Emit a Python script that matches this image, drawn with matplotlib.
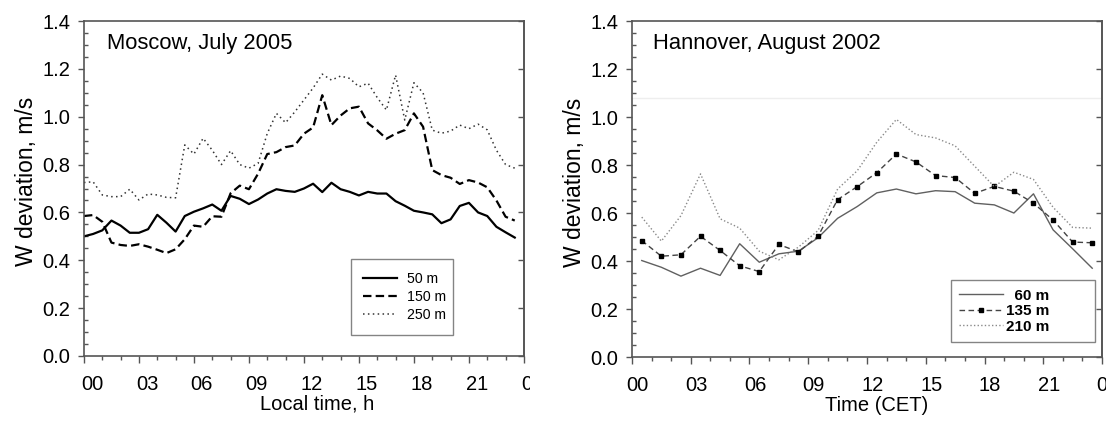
import numpy as np
import matplotlib.pyplot as plt
from matplotlib.ticker import MultipleLocator, NullLocator
from matplotlib.transforms import ScaledTranslation, Bbox, TransformedBbox

plt.rcParams['font.family'] = ['Liberation Sans', 'DejaVu Sans']

# Moscow, July 2005 - half-hourly values
msk_hours = np.arange(0, 24, 0.5)
msk_50 = [0.500, 0.510, 0.525, 0.566, 0.545, 0.515, 0.515, 0.530, 0.590, 0.557,
          0.520, 0.585, 0.603, 0.617, 0.633, 0.607, 0.669, 0.657, 0.635, 0.654,
          0.679, 0.697, 0.690, 0.686, 0.700, 0.720, 0.685, 0.724, 0.697, 0.686,
          0.671, 0.686, 0.679, 0.679, 0.647, 0.628, 0.607, 0.600, 0.592, 0.555,
          0.571, 0.627, 0.640, 0.600, 0.585, 0.540, 0.517, 0.495]
msk_150 = [0.585, 0.589, 0.561, 0.474, 0.464, 0.460, 0.467, 0.457, 0.444, 0.430,
           0.446, 0.488, 0.545, 0.540, 0.584, 0.582, 0.680, 0.712, 0.697, 0.762,
           0.844, 0.852, 0.873, 0.880, 0.929, 0.955, 1.090, 0.965, 1.005, 1.035,
           1.042, 0.972, 0.943, 0.908, 0.929, 0.944, 1.014, 0.958, 0.777, 0.756,
           0.745, 0.719, 0.735, 0.725, 0.705, 0.650, 0.582, 0.566]
msk_250 = [0.725, 0.728, 0.673, 0.666, 0.666, 0.697, 0.652, 0.677, 0.673, 0.663,
           0.661, 0.882, 0.844, 0.910, 0.860, 0.800, 0.858, 0.800, 0.785, 0.805,
           0.930, 1.014, 0.975, 1.020, 1.070, 1.120, 1.178, 1.153, 1.170, 1.160,
           1.125, 1.140, 1.080, 1.028, 1.174, 0.986, 1.142, 1.100, 0.944, 0.931,
           0.940, 0.965, 0.950, 0.969, 0.945, 0.860, 0.800, 0.785]

# Hannover, August 2002 - hourly values
han_hours = np.arange(0.5, 24, 1.0)
han_60 = [0.402, 0.374, 0.337, 0.370, 0.340, 0.472, 0.395, 0.430, 0.441, 0.497,
          0.578, 0.627, 0.684, 0.700, 0.680, 0.693, 0.689, 0.641, 0.634, 0.600,
          0.680, 0.530, 0.451, 0.370]
han_135 = [0.485, 0.420, 0.426, 0.503, 0.444, 0.380, 0.356, 0.469, 0.438, 0.503,
           0.656, 0.710, 0.768, 0.846, 0.813, 0.756, 0.748, 0.682, 0.711, 0.691,
           0.641, 0.571, 0.479, 0.476]
han_210 = [0.583, 0.483, 0.589, 0.763, 0.576, 0.537, 0.441, 0.405, 0.458, 0.527,
           0.700, 0.776, 0.895, 0.990, 0.927, 0.913, 0.880, 0.795, 0.710, 0.770,
           0.740, 0.624, 0.540, 0.537]

xtick_pos = list(range(0, 25, 3))
xtick_labels = ['00', '03', '06', '09', '12', '15', '18', '21', '00']
ytick_pos = np.arange(0, 1.41, 0.2)

spine_col = '#555555'

fig = plt.figure(figsize=(11.06, 4.21), dpi=100)
ax1 = fig.add_axes([0.0759, 0.1544, 0.3978, 0.7957])
ax2 = fig.add_axes([0.5714, 0.1520, 0.4250, 0.7980])


def style_axes(ax, shift_in):
    ax.set_xlim(0, 24)
    ax.set_ylim(0, 1.4)
    ax.set_xticks(xtick_pos)
    ax.set_xticklabels(xtick_labels)
    ax.set_yticks(ytick_pos)
    ax.set_yticklabels(['%.1f' % v for v in ytick_pos])
    ax.xaxis.set_minor_locator(MultipleLocator(1))
    ax.yaxis.set_minor_locator(MultipleLocator(0.05))
    ax.tick_params(axis='x', which='major', direction='out', length=5, width=1,
                   pad=9, labelsize=14.5, color=spine_col)
    ax.tick_params(axis='x', which='minor', direction='out', length=3, width=1,
                   color=spine_col)
    ax.tick_params(axis='y', which='major', direction='out', length=4, width=1,
                   pad=6, labelsize=14.5, color=spine_col)
    ax.tick_params(axis='y', which='minor', direction='in', length=3, width=1,
                   color=spine_col)
    for s in ax.spines.values():
        s.set_color(spine_col)
        s.set_linewidth(1.2)
    sec = ax.secondary_yaxis('right')
    sec.set_yticks(ytick_pos)
    sec.yaxis.set_minor_locator(NullLocator())
    sec.tick_params(direction='in', length=4, width=1, labelright=False, color=spine_col)
    sec.spines['right'].set_color(spine_col)
    sec.spines['right'].set_linewidth(1.2)
    # tick labels in the original sit a little right of their ticks
    shift = ScaledTranslation(shift_in, 0, fig.dpi_scale_trans)
    for lab in ax.get_xticklabels():
        lab.set_transform(lab.get_transform() + shift)


style_axes(ax1, 0.08)
style_axes(ax2, 0.055)

# left panel
ax1.plot(msk_hours, msk_50, color='black', lw=1.6, label='50 m')
ax1.plot(msk_hours, msk_150, color='black', lw=1.6, dashes=(3.8, 1.9), label='150 m')
ax1.plot(msk_hours, msk_250, color='#333333', lw=1.1, dashes=(1, 2.2), label='250 m')
ax1.text(0.052, 0.934, 'Moscow, July 2005', transform=ax1.transAxes,
         fontsize=15.8, va='center')
ax1.set_xlabel('Local time, h', fontsize=14.5)
ax1.xaxis.set_label_coords(0.53, -0.115)
ax1.set_ylabel('W deviation, m/s', fontsize=16.5)
ax1.yaxis.set_label_coords(-0.105, 0.52)
leg1 = ax1.legend(loc='lower left', bbox_to_anchor=(0.606, 0.064, 0.232, 0.255),
                  mode='expand', borderaxespad=0,
                  fancybox=False, edgecolor='#666666', fontsize=10.2,
                  handlelength=2.4, handletextpad=0.7, labelspacing=0.27,
                  borderpad=0.9)
leg1.get_frame().set_linewidth(1)

# the last "00" of the left panel is cut by the right panel
clip = TransformedBbox(Bbox([[0, 0], [5.30, 4.21]]), fig.dpi_scale_trans)
last = ax1.get_xticklabels()[-1]
last.set_clip_box(clip)
last.set_clip_on(True)

# right panel
ax2.axhline(1.078, color='#eeeeee', lw=1, zorder=0)
ax2.plot(han_hours, han_60, color='#606060', lw=1.0, label='  60 m')
ax2.plot(han_hours, han_135, color='#444444', lw=1.0, dashes=(4, 2.5),
         marker='s', ms=3, mfc='black', mec='black', label='135 m')
ax2.plot(han_hours, han_210, color='#8a8a8a', lw=1.0, dashes=(1, 1.6), label='210 m')
ax2.text(0.045, 0.934, 'Hannover, August 2002', transform=ax2.transAxes,
         fontsize=15.8, va='center')
ax2.set_xlabel('Time (CET)', fontsize=14.5)
ax2.xaxis.set_label_coords(0.521, -0.115)
ax2.set_ylabel('W deviation, m/s', fontsize=16.5)
ax2.yaxis.set_label_coords(-0.098, 0.52)
leg2 = ax2.legend(loc='lower left', bbox_to_anchor=(0.678, 0.044, 0.307, 0.214),
                  mode='expand', borderaxespad=0,
                  fancybox=False, edgecolor='#666666',
                  prop={'size': 11, 'weight': 'bold'},
                  handlelength=2.9, handletextpad=0.2, labelspacing=0.1,
                  borderpad=0.55, numpoints=1)
leg2.get_frame().set_linewidth(1)

fig.savefig('out.png', dpi=100)
